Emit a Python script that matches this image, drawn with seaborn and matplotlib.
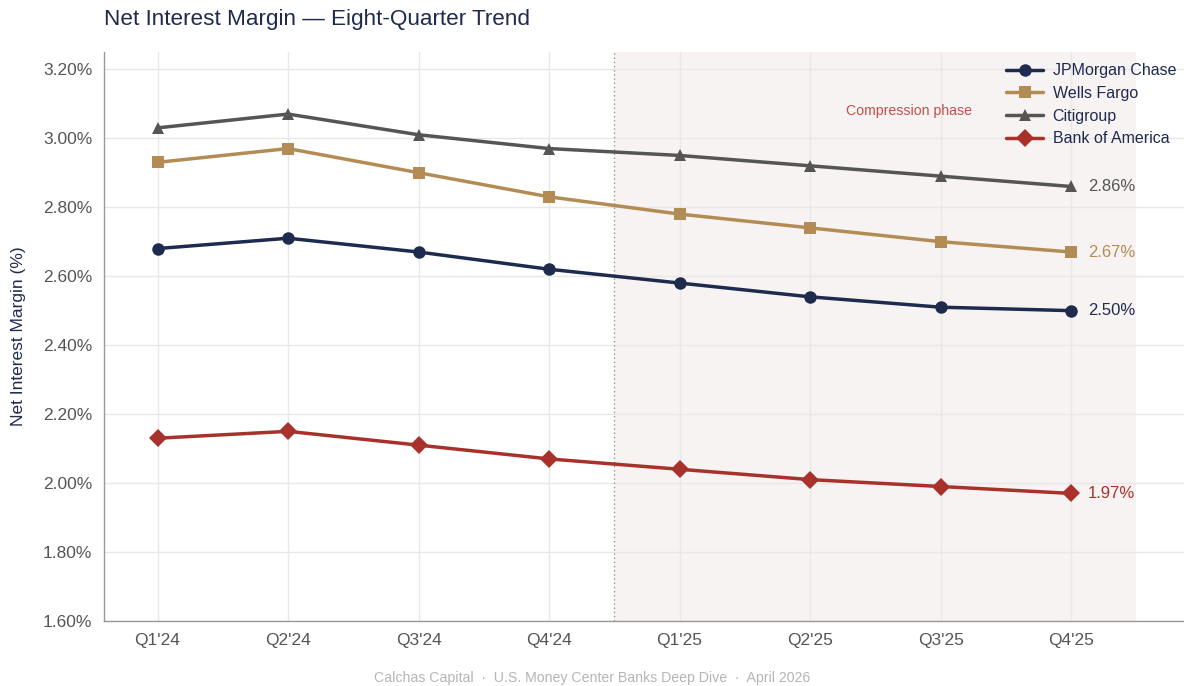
import numpy as np
import matplotlib.pyplot as plt
import seaborn as sns
import pandas as pd
from matplotlib.ticker import FuncFormatter

quarters = ["Q1'24", "Q2'24", "Q3'24", "Q4'24", "Q1'25", "Q2'25", "Q3'25", "Q4'25"]
banks = ["JPMorgan Chase", "Wells Fargo", "Citigroup", "Bank of America"]
jpm = [2.68, 2.71, 2.67, 2.62, 2.58, 2.54, 2.51, 2.50]
wfc = [2.93, 2.97, 2.90, 2.83, 2.78, 2.74, 2.70, 2.67]
citi = [3.03, 3.07, 3.01, 2.97, 2.95, 2.92, 2.89, 2.86]
bac = [2.13, 2.15, 2.11, 2.07, 2.04, 2.01, 1.99, 1.97]

colors = {"JPMorgan Chase": "#1e2b4f", "Wells Fargo": "#b38c55",
          "Citigroup": "#555555", "Bank of America": "#a8322b"}
markers = {"JPMorgan Chase": "o", "Wells Fargo": "s",
           "Citigroup": "^", "Bank of America": "D"}

rows = []
for name, vals in zip(banks, [jpm, wfc, citi, bac]):
    for i, v in enumerate(vals):
        rows.append({"bank": name, "q": i, "nim": v})
df = pd.DataFrame(rows)

sns.set_style("white")
plt.rcParams['font.family'] = ['Liberation Sans', 'DejaVu Sans']

fig = plt.figure(figsize=(11.84, 6.86), dpi=100)
ax = fig.add_axes([104/1184, 1-621/686, (1184-104)/1184, (621-52)/686])

# compression phase shading
ax.axvspan(3.5, 7.5, color='#f7f3f2', zorder=0, lw=0)
ax.axvline(3.5, color='#999988', lw=1, ls=(0, (1, 2)), zorder=1)

sns.lineplot(data=df, x='q', y='nim', hue='bank', style='bank', hue_order=banks,
             style_order=banks, palette=colors, markers=markers, dashes=False,
             lw=2.5, markersize=9, markeredgewidth=0, ax=ax, zorder=3)

ax.set_xlim(-0.41, 7.865)
ax.set_ylim(1.60, 3.25)
ax.set_xticks(range(len(quarters)))
ax.set_xticklabels(quarters)
ax.set_yticks(np.arange(1.6, 3.21, 0.2))
ax.yaxis.set_major_formatter(FuncFormatter(lambda v, p: f"{v:.2f}%"))
ax.tick_params(labelsize=12.5, colors='#555555', length=5, width=1, color='#999999')
ax.grid(True, color='#e8e8e8', lw=1, zorder=0)
ax.set_axisbelow(True)

for s in ['top', 'right']:
    ax.spines[s].set_visible(False)
for s in ['left', 'bottom']:
    ax.spines[s].set_color('#999999')
    ax.spines[s].set_linewidth(1)

ax.set_xlabel('')
ax.set_ylabel('Net Interest Margin (%)', fontsize=12.5, color='#1e2b4f', labelpad=12)

# end labels
for name, vals in zip(banks, [jpm, wfc, citi, bac]):
    ax.annotate(f"{vals[-1]:.2f}%", (7, vals[-1]), xytext=(12, 0), textcoords='offset points',
                va='center', ha='left', fontsize=12, color=colors[name])

ax.text(5.76, 3.08, 'Compression phase', ha='center', va='center', fontsize=10.2, color='#c0504a')

leg = ax.legend(loc='upper right', bbox_to_anchor=(1.003, 1.0), frameon=False, fontsize=11.5,
                handlelength=2.3, handletextpad=0.6, labelspacing=0.48, borderaxespad=0.3)
for t in leg.get_texts():
    t.set_color('#1e2b4f')

fig.text(104/1184, 1-20/686, 'Net Interest Margin \u2014 Eight-Quarter Trend', fontsize=16.2,
         color='#1e2b4f', ha='left', va='center')
fig.text(0.5, 1-678/686, 'Calchas Capital  \u00b7  U.S. Money Center Banks Deep Dive  \u00b7  April 2026',
         fontsize=10.2, color='#b5b5b5', ha='center', va='center')

fig.savefig('out.png', dpi=100)
